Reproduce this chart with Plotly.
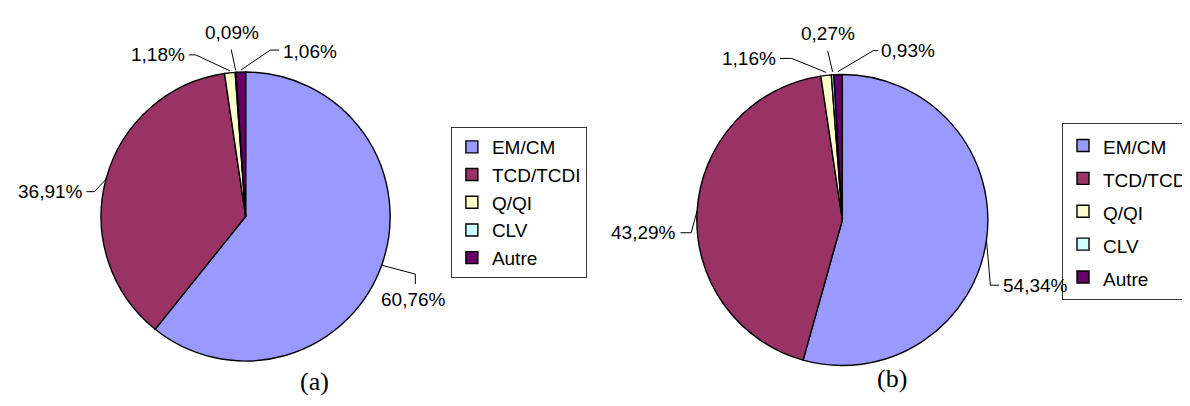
import math
import plotly.graph_objects as go

# ---------------- data ----------------
categories = ["EM/CM", "TCD/TCDI", "Q/QI", "CLV", "Autre"]
values_a = [60.76, 36.91, 1.18, 0.09, 1.06]
values_b = [54.34, 43.29, 1.16, 0.27, 0.93]
panel_titles = ["(a)", "(b)"]

# ---------------- styling / layout ----------------
colors = ["#9999FF", "#993366", "#FFFFCC", "#CCFFFF", "#660066"]
W, H = 1190, 406
SANS = "Arial, 'Liberation Sans', sans-serif"
SERIF = "'Times New Roman', 'Liberation Serif', serif"
LABEL_SIZE = 19


def px(x):
    return x / W


def py(y):
    return 1 - y / H


# pie domains in pixels: left, top, right, bottom
dom_a = (95, 62, 390, 355)
dom_b = (703, 63, 1000, 361)

# label leader layout per slice: elbow offset from edge, end offset from elbow,
# text anchor offset from end, xanchor, yanchor
lab_a = [
    ((35, 9), (0, 10), (-2, 3), "center", "top"),
    ((-13, 13.5), (-8, 0), (-2, 0), "right", "middle"),
    ((-35, -16), (-7, 0), (-2, 0), "right", "middle"),
    ((-4.5, -20.7), (0, 0), (1, -5), "center", "bottom"),
    ((30, -20), (9, 0), (2, 1), "left", "middle"),
]
lab_b = [
    ((4, 45), (9, 0), (2, 0), "left", "middle"),
    ((-6, 22), (-11, 0), (-2, 0), "right", "middle"),
    ((-35, -14), (-12, 0), (-2, 0), "right", "middle"),
    ((-5, -21), (0, 0), (0, -5), "center", "bottom"),
    ((36, -21), (5, 0), (1, 0), "left", "middle"),
]


def fmt(v):
    return f"{v:.2f}".replace(".", ",") + "%"


fig = go.Figure()
shapes = []
annotations = []


def add_pie(values, dom, labs, legend_name, label_text):
    l, t, r, b = dom
    fig.add_trace(go.Pie(
        labels=label_text,
        values=values,
        domain=dict(x=[px(l), px(r)], y=[py(b), py(t)]),
        sort=False,
        direction="clockwise",
        rotation=0,
        textinfo="none",
        marker=dict(colors=colors, line=dict(color="black", width=1.4)),
        legend=legend_name,
        hovertemplate="%{label}: %{percent}<extra></extra>",
    ))
    cx, cy = (l + r) / 2, (t + b) / 2
    rad = min(r - l, b - t) / 2
    total = sum(values)
    cum = 0.0
    for v, (el, en, tx, xa, ya) in zip(values, labs):
        theta = 2 * math.pi * (cum + v / 2) / total
        cum += v
        ex, ey = cx + rad * math.sin(theta), cy - rad * math.cos(theta)
        bx, by = ex + el[0], ey + el[1]
        nx, ny = bx + en[0], by + en[1]
        path = f"M{px(ex)},{py(ey)} L{px(bx)},{py(by)} L{px(nx)},{py(ny)}"
        shapes.append(dict(type="path", path=path, xref="paper", yref="paper",
                           line=dict(color="black", width=1)))
        annotations.append(dict(
            x=px(nx + tx[0]), y=py(ny + tx[1]), xref="paper", yref="paper",
            text=fmt(v), showarrow=False, xanchor=xa, yanchor=ya,
            font=dict(family=SANS, size=LABEL_SIZE, color="black"),
        ))


add_pie(values_a, dom_a, lab_a, "legend", categories)
add_pie(values_b, dom_b, lab_b, "legend2",
        [f"<span style='font-size:{LABEL_SIZE}px'>{c}</span>" for c in categories])

annotations.append(dict(x=px(296), y=py(390), xref="paper", yref="paper",
                        text=panel_titles[0], showarrow=False,
                        font=dict(family=SERIF, size=26, color="black")))
annotations.append(dict(x=px(920), y=py(387), xref="paper", yref="paper",
                        text=panel_titles[1], showarrow=False,
                        font=dict(family=SERIF, size=26, color="black")))

legend_common = dict(xanchor="left", yanchor="top", bgcolor="white",
                     bordercolor="#333333", borderwidth=1, orientation="v")

fig.update_layout(
    width=W, height=H,
    margin=dict(l=0, r=0, t=0, b=0),
    paper_bgcolor="white", plot_bgcolor="white",
    font=dict(family=SANS, color="black"),
    shapes=shapes,
    annotations=annotations,
    legend=dict(x=px(452), y=py(119),
                font=dict(family=SANS, size=19, color="black"), **legend_common),
    legend2=dict(x=px(1076), y=py(115),
                 font=dict(family=SANS, size=23, color="black"), **legend_common),
)

fig.write_html("out.html")
